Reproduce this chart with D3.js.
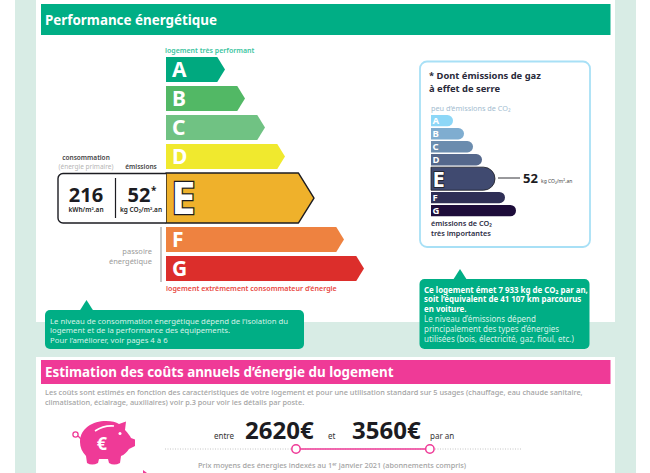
<!DOCTYPE html>
<html>
<head>
<meta charset="utf-8">
<script src="https://cdn.jsdelivr.net/npm/d3@7"></script>
<style>
html, body { margin: 0; padding: 0; background: #fff; }
svg { display: block; }
text { font-family: "Noto Sans", "DejaVu Sans", sans-serif; }
</style>
</head>
<body>
<div id="chart"></div>
<script>
// energy classes
var classes = ["A", "B", "C", "D", "E", "F", "G"];
var energyLength = [59, 79, 99, 119, 148, 178, 198];
var energyRows = [1, 1, 1, 1, 1.86, 1, 1];
var energyColors = ["#00a97f", "#52b865", "#70c283", "#f0e92e", "#efb12b", "#ee8240", "#dc2e2b"];

// gas classes
var gasLength = [22, 33, 42, 51, 64, 74, 85];
var gasRows = [1, 1, 1, 1, 1.9, 1, 1];
var gasColors = ["#8dd7f7", "#7fadd0", "#6b8cae", "#55688c", "#404a70", "#2f2f56", "#1d0c3a"];

var currentClass = "E";
var consumption = 216;
var emissions = 52;
var costRange = [2620, 3560];
var costDomain = [1700, 4200];

var note1 = ["Le niveau de consommation énergétique dépend de l’isolation du",
	"logement et de la performance des équipements.",
	"Pour l’améliorer, voir pages 4 à 6"];
var note2Bold = ["Ce logement émet 7 933 kg de CO₂ par an,",
	"soit l’équivalent de 41 107 km parcourus",
	"en voiture."];
var note2 = ["Le niveau d’émissions dépend",
	"principalement des types d’énergies",
	"utilisées (bois, électricité, gaz, fioul, etc.)"];
var costNote = ["Les coûts sont estimés en fonction des caractéristiques de votre logement et pour une utilisation standard sur 5 usages (chauffage, eau chaude sanitaire,",
	"climatisation, éclairage, auxiliaires) voir p.3 pour voir les détails par poste."];

var width = 650, height = 473;
var green = "#00ae85", pink = "#ef3a97", band = "#d8ece5", ink = "#1c1c22", grey = "#a3a3a3";

var svg = d3.select("#chart").append("svg")
	.attr("width", width)
	.attr("height", height);

function label(x, y, str, size, fill, weight, anchor) {
	return svg.append("text")
		.attr("x", x)
		.attr("y", y)
		.attr("font-size", size)
		.attr("fill", fill)
		.attr("font-weight", weight || 400)
		.attr("text-anchor", anchor || "start")
		.text(str);
}

function box(x, y, w, h, fill, r) {
	return svg.append("rect")
		.attr("x", x).attr("y", y)
		.attr("width", w).attr("height", h)
		.attr("rx", r || 0)
		.attr("fill", fill);
}

// y scale over cumulative rows, the taller E row takes more room
function rowStarts(rows) {
	var total = 0;
	return rows.map(function(r) { var s = total; total += r; return s; });
}

// page background
box(15, 0, 621, 473, band);
box(36, 0, 579, 322, "#fff");
box(36, 357, 579, 116, "#fff");

// headers
box(41, 4, 569.5, 31, green);
label(45, 24.5, "Performance énergétique", 13.4, "#fff", 700);
box(41, 360, 569.5, 24, pink);
label(45, 377, "Estimation des coûts annuels d’énergie du logement", 13.4, "#fff", 700);

// energy label
var energyStart = rowStarts(energyRows);
var xEnergy = d3.scaleLinear().domain([0, 198]).range([166, 364]);
var yEnergy = d3.scaleLinear().domain([0, 7.86]).range([57, 285]);

var rowGap = 4;
var arrow = d3.line();

classes.forEach(function(c, i) {
	var top = yEnergy(energyStart[i]);
	var bottom = yEnergy(energyStart[i] + energyRows[i]) - rowGap;
	var tip = xEnergy(energyLength[i]);
	var notch = (bottom - top) / 2 * 0.62;
	var pts = [[xEnergy(0), top], [tip - notch, top], [tip, (top + bottom) / 2], [tip - notch, bottom], [xEnergy(0), bottom]];
	var isCurrent = c === currentClass;
	svg.append("path")
		.attr("d", arrow(pts) + "Z")
		.attr("fill", energyColors[i])
		.attr("stroke", isCurrent ? ink : "none")
		.attr("stroke-width", 1.4)
		.attr("stroke-linejoin", "round");
	var t = label(isCurrent ? 171 : 172, (top + bottom) / 2 + (isCurrent ? 16 : 7.5), c, isCurrent ? 44 : 21, "#fff", 700);
	if(isCurrent) {
		t.attr("stroke", ink).attr("stroke-width", 2.4).attr("paint-order", "stroke");
	}
});

label(165, 53, "logement très performant", 7, "#3cc4a0", 600);
label(166, 291, "logement extrêmement consommateur d’énergie", 7.1, "#e8483f", 600);

// values box on the left of E
label(86, 160, "consommation", 6.5, "#444", 600, "middle");
label(86, 169, "(énergie primaire)", 6.5, "#b5b5b5", 400, "middle");
label(141, 169, "émissions", 6.5, "#444", 600, "middle");
svg.append("path")
	.attr("d", "M166,173.5H63a5,5 0 0 0 -5,5V218a5,5 0 0 0 5,5H166")
	.attr("fill", "#fff")
	.attr("stroke", ink)
	.attr("stroke-width", 1.4);
svg.append("line")
	.attr("x1", 115.5).attr("x2", 115.5)
	.attr("y1", 178).attr("y2", 218)
	.attr("stroke", ink).attr("stroke-width", 1.2);
label(86, 202, consumption, 20, ink, 700, "middle");
label(86, 212, "kWh/m².an", 6.5, ink, 600, "middle");
label(139, 202, emissions, 20, ink, 700, "middle");
label(151, 194, "*", 10, ink, 700);
label(141, 212, "kg CO₂/m².an", 6.5, ink, 600, "middle");

// passoire
svg.append("line")
	.attr("x1", 161).attr("x2", 161)
	.attr("y1", 227).attr("y2", 282)
	.attr("stroke", "#a0a0a0").attr("stroke-width", 1.2);
label(152, 254, "passoire", 7.5, "#9a9a9a", 400, "end");
label(152, 264, "énergétique", 7.5, "#9a9a9a", 400, "end");

// gas panel
box(420, 61.5, 170, 185.5, "#fff", 7)
	.attr("stroke", "#a8e0f6")
	.attr("stroke-width", 1.8);
label(429, 79, "* Dont émissions de gaz", 9.4, "#2a2a3a", 700);
label(429, 92, "à effet de serre", 9.4, "#2a2a3a", 700);
label(431, 111, "peu d’émissions de CO₂", 7.3, "#a3bcd0", 400);

var gasStart = rowStarts(gasRows);
var xGas = d3.scaleLinear().domain([0, 85]).range([431, 516]);
var yGas = d3.scaleLinear().domain([0, 7.9]).range([115, 218]);

classes.forEach(function(c, i) {
	var top = yGas(gasStart[i]);
	var bottom = yGas(gasStart[i] + gasRows[i]) - 1.7;
	var h = bottom - top;
	var r = h / 2;
	var right = xGas(gasLength[i]);
	var isCurrent = c === currentClass;
	svg.append("path")
		.attr("d", "M" + xGas(0) + "," + top + "H" + (right - r) +
			"A" + r + "," + r + " 0 0 1 " + (right - r) + "," + bottom +
			"H" + xGas(0) + "Z")
		.attr("fill", gasColors[i])
		.attr("stroke", isCurrent ? ink : "none")
		.attr("stroke-width", 0.8);
	var t = label(432.5, (top + bottom) / 2 + (isCurrent ? 8 : 3.5), c, isCurrent ? 22 : 9.5, "#fff", 700);
	if(isCurrent) {
		t.attr("stroke", ink).attr("stroke-width", 1.5).attr("paint-order", "stroke");
	}
});

svg.append("line")
	.attr("x1", 498).attr("x2", 520)
	.attr("y1", 178).attr("y2", 178)
	.attr("stroke", ink).attr("stroke-width", 0.9);
label(523, 183, emissions, 13, ink, 700);
label(541, 183, "kg CO₂/m².an", 5, "#444", 400);
label(431, 226, "émissions de CO₂", 7.3, "#2c2c44", 600);
label(431, 236, "très importantes", 7.3, "#2c2c44", 600);

// green notes
function note(x, y, w, h, apex) {
	svg.append("path")
		.attr("d", d3.line()([[apex - 7, y + 1], [apex, y - 10], [apex + 7, y + 1]]) + "Z")
		.attr("fill", green);
	box(x, y, w, h, green, 5);
}
note(45, 310, 259, 39, 86.5);
note1.forEach(function(s, i) {
	label(50, 323.5 + i * 9.8, s, 7.75, "#d6f2e8");
});
note(419.5, 279, 170, 70, 460);
note2Bold.forEach(function(s, i) {
	label(424, 292.5 + i * 9.8, s, 7.9, "#fff", 700);
});
note2.forEach(function(s, i) {
	label(424, 322 + i * 9.9, s, 8, "#d6f2e8");
});

// cost section
costNote.forEach(function(s, i) {
	label(45, 395 + i * 9.7, s, 7.35, grey, 500);
});

var xCost = d3.scaleLinear().domain(costDomain).range([165, 521]);
svg.append("line")
	.attr("x1", xCost(costDomain[0])).attr("x2", xCost(costDomain[1]))
	.attr("y1", 449).attr("y2", 449)
	.attr("stroke", "#b5b5b5")
	.attr("stroke-width", 0.8)
	.attr("stroke-dasharray", "1 1.5");
svg.append("line")
	.attr("x1", xCost(costRange[0])).attr("x2", xCost(costRange[1]))
	.attr("y1", 449).attr("y2", 449)
	.attr("stroke", pink)
	.attr("stroke-width", 1.5);
svg.selectAll("circle.cost")
	.data(costRange)
	.enter().append("circle")
	.attr("class", "cost")
	.attr("cx", function(d) { return xCost(d); })
	.attr("cy", 449)
	.attr("r", 4.2)
	.attr("fill", "#fff")
	.attr("stroke", pink)
	.attr("stroke-width", 1.5);

label(214, 439, "entre", 8, "#333");
label(245, 439, costRange[0] + "€", 24, ink, 700);
label(328, 439, "et", 8, "#333");
label(352, 439, costRange[1] + "€", 24, ink, 700);
label(430, 439, "par an", 8, "#333");
label(332, 468, "Prix moyens des énergies indexés au 1ᵉʳ janvier 2021 (abonnements compris)", 7.3, grey, 500, "middle");

// piggy bank
var pig = svg.append("g").attr("fill", pink);
pig.append("path").attr("d", "M80,442C80,428 93,421 106,421C112,421 116,422 119,424L126,421.5L125,430C128,433 130,436 131,438L135,439.5V446L129,449C127,452 124,455 121,456L120,463Q114,466 109,463L108,459H99L98,463Q92,466 87,463L86,456C82,452 80,447 80,442Z");
pig.append("circle").attr("cx", 75.5).attr("cy", 434.5).attr("r", 2.6)
	.attr("fill", "none").attr("stroke", pink).attr("stroke-width", 1.3);
pig.append("path").attr("d", "M78,436L81,439").attr("stroke", pink).attr("stroke-width", 1.3);
pig.append("path").attr("d", "M95,431Q104,425 114,426").attr("fill", "none").attr("stroke", "#fff").attr("stroke-width", 1.6);
pig.append("circle").attr("cx", 120).attr("cy", 433.5).attr("r", 1.5).attr("fill", "#fff");
label(102, 450, "€", 18, "#fff", 700, "middle");
svg.append("path").attr("d", "M143,473V470L147,473Z").attr("fill", pink);
</script>
</body>
</html>
